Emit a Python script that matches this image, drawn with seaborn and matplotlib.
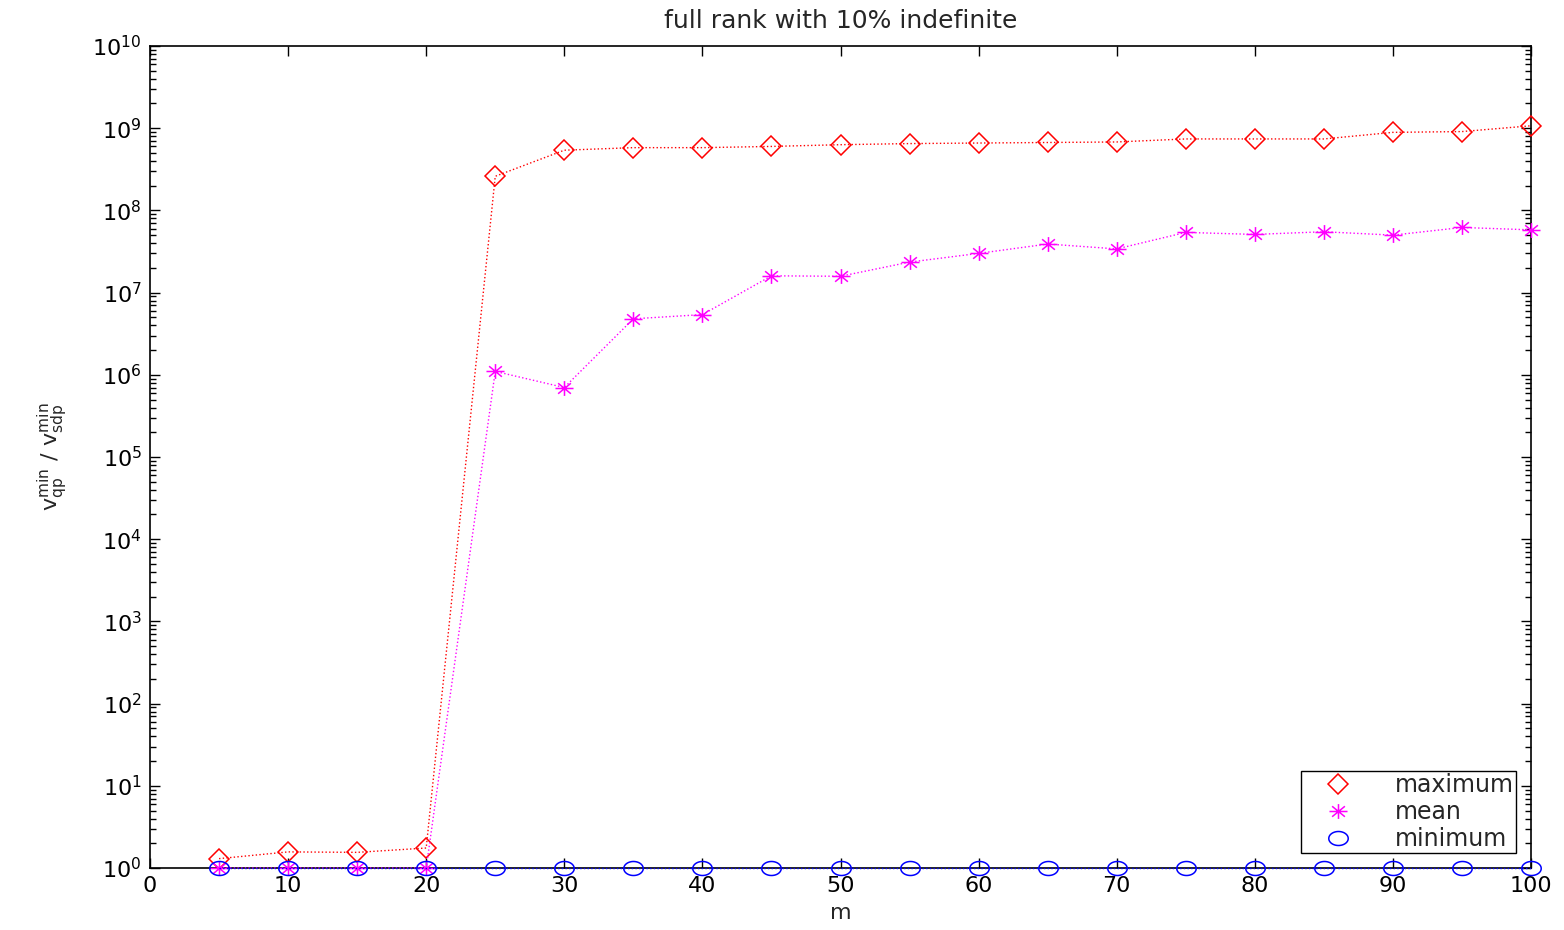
import numpy as np
import pandas as pd
import matplotlib
matplotlib.use("Agg")
import matplotlib.pyplot as plt
from matplotlib.path import Path
from matplotlib.lines import Line2D
from matplotlib.ticker import FixedLocator, NullFormatter, MultipleLocator, LogFormatterSciNotation
import seaborn as sns

# problem size m
m = [5, 10, 15, 20, 25, 30, 35, 40, 45, 50, 55, 60, 65, 70, 75, 80, 85, 90, 95, 100]

# ratio v_qp^min / v_sdp^min over the test instances
ratio_max = [1.3, 1.57, 1.55, 1.75, 2.6e8, 5.4e8, 5.8e8, 5.8e8, 6.0e8, 6.3e8,
             6.5e8, 6.6e8, 6.7e8, 6.8e8, 7.4e8, 7.4e8, 7.4e8, 8.9e8, 9.1e8, 1.07e9]
ratio_mean = [1.0, 1.0, 1.0, 1.0, 1.1e6, 7.0e5, 4.8e6, 5.4e6, 1.6e7, 1.58e7,
              2.35e7, 3.0e7, 3.9e7, 3.4e7, 5.4e7, 5.1e7, 5.5e7, 5.0e7, 6.2e7, 5.8e7]
ratio_min = [1.0] * 20

series_names = ["maximum", "mean", "minimum"]

sns.set_style("ticks")
plt.rcParams["font.family"] = ["DejaVu Sans"]
plt.rcParams["mathtext.fontset"] = "dejavusans"
plt.rcParams["mathtext.default"] = "regular"

FS = 16

# slightly flattened circle and 8-armed asterisk markers
t = np.linspace(0, 2 * np.pi, 60)
ellipse = Path(np.column_stack([np.cos(t), 0.72 * np.sin(t)]), closed=True)
ast_verts, ast_codes = [], []
for a in np.deg2rad([0, 45, 90, 135]):
    dx, dy = np.cos(a), 0.82 * np.sin(a)
    ast_verts += [(-dx, -dy), (dx, dy)]
    ast_codes += [Path.MOVETO, Path.LINETO]
asterisk = Path(ast_verts, ast_codes)

df = pd.DataFrame({"m": m, "maximum": ratio_max, "mean": ratio_mean, "minimum": ratio_min})

fig = plt.figure(figsize=(15.64, 9.30), dpi=100)
ax = fig.add_axes([150 / 1564, 62 / 930, 1381 / 1564, 822 / 930])

styles = {
    "maximum": dict(color="#ff0000", marker="D", ms=10, mew=1.1),
    "mean": dict(color="#ff00ff", marker=asterisk, ms=13, mew=1.1),
    "minimum": dict(color="#0000ff", marker=ellipse, ms=14, mew=1.1),
}

for name in series_names:
    st = styles[name]
    sns.lineplot(data=df, x="m", y=name, ax=ax, color=st["color"], linestyle=":",
                 linewidth=1.0, marker=st["marker"], markersize=st["ms"],
                 markerfacecolor="none", markeredgecolor=st["color"],
                 markeredgewidth=st["mew"], clip_on=False, zorder=3)

ax.set_yscale("log")
ax.set_xlim(0, 100)
ax.set_ylim(1, 1e10)
ax.xaxis.set_major_locator(MultipleLocator(10))
decades = np.arange(0, 11)
ax.yaxis.set_major_locator(FixedLocator(10.0 ** decades))
ax.yaxis.set_major_formatter(LogFormatterSciNotation(base=10))
minor = [k * 10.0 ** d for d in decades[:-1] for k in range(2, 10)]
ax.yaxis.set_minor_locator(FixedLocator(minor))
ax.yaxis.set_minor_formatter(NullFormatter())

ax.tick_params(which="both", direction="in", top=True, right=True, labelsize=FS,
               colors="black", width=1.0)
ax.tick_params(which="major", length=7, pad=6)
ax.tick_params(which="minor", length=4)
for s in ax.spines.values():
    s.set_linewidth(1.2)
    s.set_color("black")
    s.set_zorder(2)

ax.set_xlabel("m", fontsize=FS, labelpad=5)
ax.set_ylabel(r"$v_{qp}^{min}\ /\ v_{sdp}^{min}$", fontsize=FS, labelpad=16)
ax.set_title("full rank with 10% indefinite", fontsize=18, pad=13)

handles = [Line2D([], [], linestyle="none", marker=styles[n]["marker"],
                  markersize=styles[n]["ms"], markerfacecolor="none",
                  markeredgecolor=styles[n]["color"], markeredgewidth=1.1)
           for n in series_names]
leg = ax.legend(handles, series_names, loc="lower right", bbox_to_anchor=(0.9895, 0.018),
                fontsize=FS + 1, frameon=True, fancybox=False, edgecolor="black",
                framealpha=1, borderpad=0.1, labelspacing=0.12, handletextpad=0.9,
                handlelength=3.0, borderaxespad=0)
leg.get_frame().set_linewidth(1.0)
leg.set_zorder(5)

fig.savefig("out.png", dpi=100)
